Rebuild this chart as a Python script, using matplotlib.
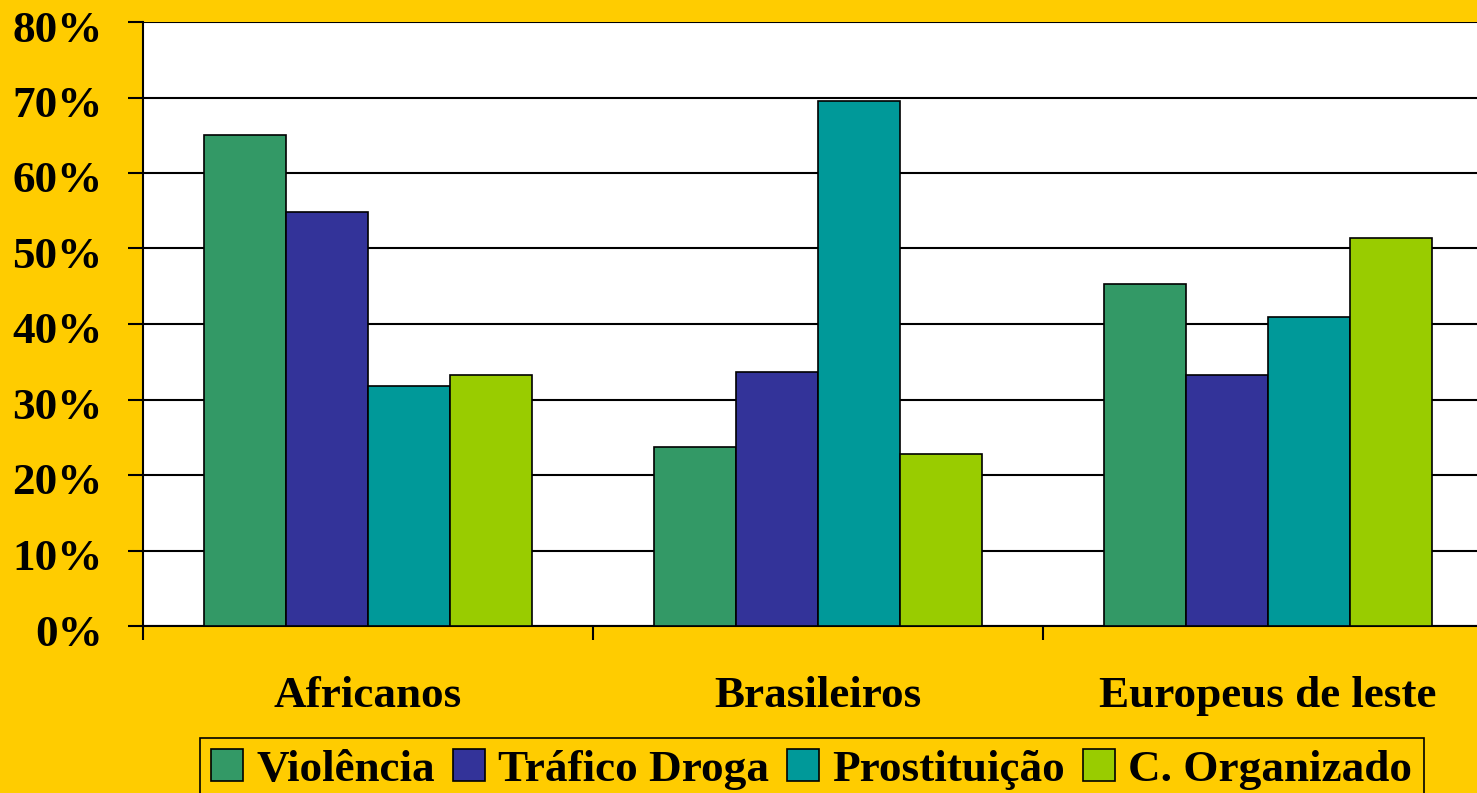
import numpy as np
import matplotlib
matplotlib.use("Agg")
from matplotlib import pyplot as plt
from matplotlib.ticker import FuncFormatter, FixedLocator
from matplotlib.transforms import ScaledTranslation

groups = ["Africanos", "Brasileiros", "Europeus de leste"]
series = ["Violência", "Tráfico Droga", "Prostituição", "C. Organizado"]
violencia = [65, 23.7, 45.3]
trafico = [54.8, 33.7, 33.3]
prostituicao = [31.8, 69.5, 40.9]
organizado = [33.3, 22.8, 51.4]
colors = ["#339966", "#333399", "#009999", "#99CC00"]

bg = "#FFCC00"
plt.rcParams["font.family"] = ["Liberation Serif", "DejaVu Serif"]
plt.rcParams["font.weight"] = "bold"

fig = plt.figure(figsize=(14.77, 7.93), dpi=100, facecolor=bg)
ax = fig.add_axes([143 / 1477, 1 - 626 / 793, 1350 / 1477, (626 - 22) / 793])
ax.set_facecolor("white")

values = [violencia, trafico, prostituicao, organizado]
width = 0.182
centers = np.arange(len(groups)) + 0.5
for i, (name, vals) in enumerate(zip(series, values)):
    x = centers + (i - 1.5) * width
    ax.bar(x, vals, width, color=colors[i], edgecolor="black", linewidth=1.2,
           label=name, zorder=3)

ax.set_xlim(0, 3)
ax.set_ylim(0, 80)
ax.set_yticks(np.arange(0, 81, 10))
ax.yaxis.set_major_formatter(FuncFormatter(lambda v, p: f"{int(v)}%"))
ax.yaxis.grid(True, color="black", linewidth=1.5, zorder=0)
ax.set_axisbelow(True)

ax.xaxis.set_major_locator(FixedLocator([0, 1, 2, 3]))
ax.xaxis.set_minor_locator(FixedLocator(list(centers)))
ax.set_xticklabels([])
ax.set_xticklabels(groups, minor=True)
ax.tick_params(axis="x", which="major", length=10, width=1.5, direction="out")
ax.tick_params(axis="x", which="minor", length=0, pad=36, labelsize=32.5)
ax.tick_params(axis="y", length=11, width=1.5, labelsize=32.5, pad=18)

# y labels sit slightly below their ticks in the original
shift = ScaledTranslation(0, -4 / 100, fig.dpi_scale_trans)
for lbl in ax.get_yticklabels():
    lbl.set_transform(lbl.get_transform() + shift)

for side in ["top", "right"]:
    ax.spines[side].set_visible(False)
ax.spines["left"].set_linewidth(1.5)
ax.spines["bottom"].set_linewidth(1.5)

leg = fig.legend(loc="upper left", bbox_to_anchor=(200 / 1477, 1 - 738 / 793),
                 ncol=4, fontsize=32.5, frameon=True, fancybox=False,
                 facecolor=bg, edgecolor="black", framealpha=1,
                 handlelength=0.7, handleheight=0.7, handletextpad=0.3,
                 columnspacing=0.4, borderpad=0.25, borderaxespad=0)
leg.get_frame().set_linewidth(1.2)

fig.savefig("out.png", dpi=100, facecolor=bg)
